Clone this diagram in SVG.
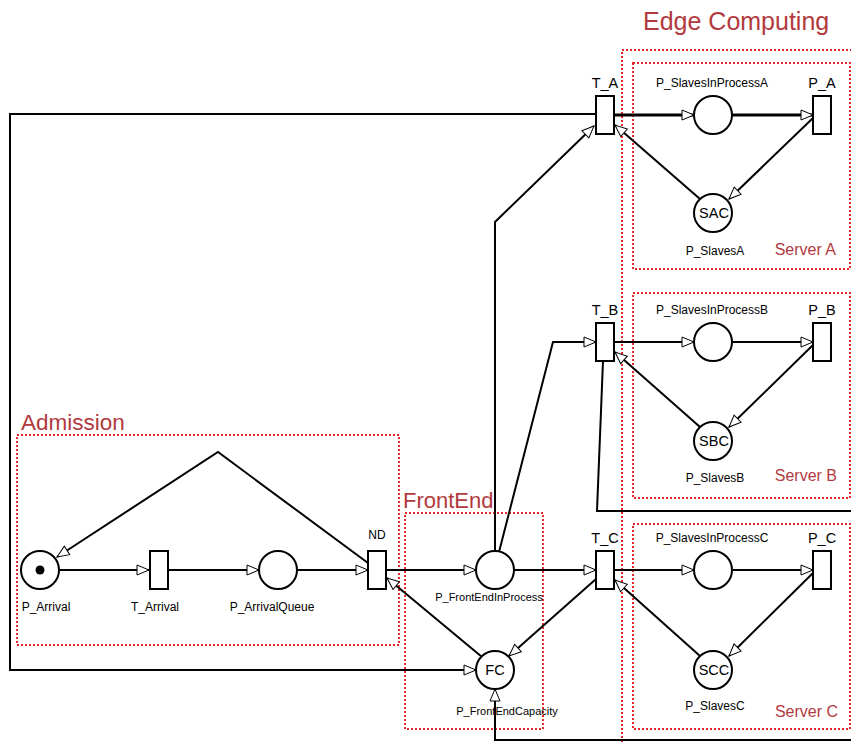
<svg xmlns="http://www.w3.org/2000/svg" width="851" height="744" viewBox="0 0 851 744">
<defs>
<marker id="arr" viewBox="0 0 14 12" refX="13" refY="6" markerWidth="14" markerHeight="12" markerUnits="userSpaceOnUse" orient="auto">
<path d="M1,1 L13,6 L1,11 z" fill="#fff" stroke="#000" stroke-width="1"/>
</marker>
</defs>
<style>
.box{fill:none;stroke:#e8262a;stroke-width:2;stroke-dasharray:2,2}
.glabel{font-family:"Liberation Sans",Arial,sans-serif;fill:#b23a3e}
.place{fill:#fff;stroke:#000;stroke-width:2}
.trans{fill:#fff;stroke:#000;stroke-width:2}
.arc{fill:none;stroke:#000;stroke-width:2}
.a{marker-end:url(#arr)}
.lbl{font-family:"Liberation Sans",Arial,sans-serif;font-size:12px;fill:#000;text-anchor:middle}
.sm{font-size:11px}
.tl{font-family:"Liberation Sans",Arial,sans-serif;font-size:14.5px;fill:#000;text-anchor:middle}
</style>
<rect width="851" height="744" fill="#fff"/>

<g id="groups">
<rect class="box" x="17" y="435" width="382" height="210"/>
<text class="glabel" x="21" y="430" font-size="22.5">Admission</text>
<rect class="box" x="405" y="513" width="138" height="216"/>
<text class="glabel" x="403" y="508" font-size="22">FrontEnd</text>
<rect class="box" x="622" y="50" width="240" height="720"/>
<text class="glabel" x="643" y="30" font-size="25">Edge Computing</text>
<rect class="box" x="633" y="63" width="217" height="206"/>
<text class="glabel" x="836" y="255" font-size="16" text-anchor="end">Server A</text>
<rect class="box" x="633" y="293" width="217" height="205"/>
<text class="glabel" x="837" y="481" font-size="16" text-anchor="end">Server B</text>
<rect class="box" x="633" y="524" width="217" height="205"/>
<text class="glabel" x="838" y="717" font-size="16" text-anchor="end">Server C</text>
</g>

<g id="connectors">
<line class="arc a" x1="59" y1="570" x2="149" y2="570"/>
<line class="arc a" x1="168" y1="570" x2="259" y2="570"/>
<line class="arc a" x1="297" y1="570" x2="368" y2="570"/>
<polyline class="arc a" points="368,563 218,452 57,557"/>
<line class="arc a" x1="386" y1="570" x2="476" y2="570"/>
<line class="arc a" x1="482" y1="657" x2="387" y2="578"/>
<line class="arc a" x1="514" y1="570" x2="596" y2="570"/>
<line class="arc a" x1="596" y1="579" x2="509" y2="656"/>
<polyline class="arc a" points="596,114 10,114 10,670 476,670"/>
<polyline class="arc a" points="851,740 495,740 495,689"/>
<polyline class="arc a" points="495,551 495,222 594,126"/>
<polyline class="arc a" points="499,552 553,342 596,342"/>
<polyline class="arc" points="603,361 597,511 851,511"/>
<line class="arc a" x1="605" y1="115" x2="694" y2="115" style="stroke-width:3"/>
<line class="arc a" x1="732" y1="115" x2="813" y2="115" style="stroke-width:3"/>
<line class="arc a" x1="813" y1="118" x2="729" y2="199"/>
<line class="arc a" x1="700" y1="199" x2="615" y2="125"/>
<line class="arc a" x1="605" y1="342" x2="694" y2="342"/>
<line class="arc a" x1="732" y1="342" x2="813" y2="342"/>
<line class="arc a" x1="813" y1="345" x2="729" y2="427"/>
<line class="arc a" x1="700" y1="427" x2="615" y2="352"/>
<line class="arc a" x1="605" y1="570" x2="694" y2="570"/>
<line class="arc a" x1="732" y1="570" x2="813" y2="570"/>
<line class="arc a" x1="813" y1="573" x2="729" y2="656"/>
<line class="arc a" x1="700" y1="656" x2="615" y2="580"/>
</g>

<g id="P_Arrival">
<circle class="place" cx="40" cy="570" r="19"/>
<circle cx="40" cy="570" r="4.5" fill="#000"/>
<text class="lbl" x="46" y="611">P_Arrival</text>
</g>
<g id="T_Arrival">
<rect class="trans" x="150" y="551" width="18" height="38"/>
<text class="lbl" x="155" y="611">T_Arrival</text>
</g>
<g id="P_ArrivalQueue">
<circle class="place" cx="278" cy="570" r="19"/>
<text class="lbl" x="272" y="611">P_ArrivalQueue</text>
</g>
<g id="ND">
<rect class="trans" x="368" y="551" width="18" height="38"/>
<text class="lbl" x="377" y="539">ND</text>
</g>
<g id="P_FrontEndInProcess">
<circle class="place" cx="495" cy="570" r="19"/>
<text class="lbl sm" x="489" y="601">P_FrontEndInProcess</text>
</g>
<g id="P_FrontEndCapacity">
<circle class="place" cx="495" cy="670" r="19"/>
<text class="tl" x="495" y="675">FC</text>
<text class="lbl sm" x="507" y="715">P_FrontEndCapacity</text>
</g>

<g id="T_A">
<rect class="trans" x="596" y="96" width="18" height="38"/>
<text class="tl" x="605" y="88">T_A</text>
</g>
<g id="P_SlavesInProcessA">
<circle class="place" cx="713" cy="115" r="19"/>
<text class="lbl" x="712" y="87">P_SlavesInProcessA</text>
</g>
<g id="P_A">
<rect class="trans" x="813" y="96" width="18" height="38"/>
<text class="tl" x="822" y="88">P_A</text>
</g>
<g id="P_SlavesA">
<circle class="place" cx="713" cy="213" r="19"/>
<text class="tl" x="714" y="218">SAC</text>
<text class="lbl" x="715" y="255">P_SlavesA</text>
</g>

<g id="T_B">
<rect class="trans" x="596" y="323" width="18" height="38"/>
<text class="tl" x="605" y="315">T_B</text>
</g>
<g id="P_SlavesInProcessB">
<circle class="place" cx="713" cy="342" r="19"/>
<text class="lbl" x="712" y="314">P_SlavesInProcessB</text>
</g>
<g id="P_B">
<rect class="trans" x="813" y="323" width="18" height="38"/>
<text class="tl" x="822" y="315">P_B</text>
</g>
<g id="P_SlavesB">
<circle class="place" cx="713" cy="441" r="19"/>
<text class="tl" x="714" y="446">SBC</text>
<text class="lbl" x="715" y="482">P_SlavesB</text>
</g>

<g id="T_C">
<rect class="trans" x="596" y="551" width="18" height="38"/>
<text class="tl" x="605" y="543">T_C</text>
</g>
<g id="P_SlavesInProcessC">
<circle class="place" cx="713" cy="570" r="19"/>
<text class="lbl" x="712" y="542">P_SlavesInProcessC</text>
</g>
<g id="P_C">
<rect class="trans" x="813" y="551" width="18" height="38"/>
<text class="tl" x="822" y="543">P_C</text>
</g>
<g id="P_SlavesC">
<circle class="place" cx="713" cy="670" r="19"/>
<text class="tl" x="714" y="675">SCC</text>
<text class="lbl" x="715" y="710">P_SlavesC</text>
</g>
</svg>
